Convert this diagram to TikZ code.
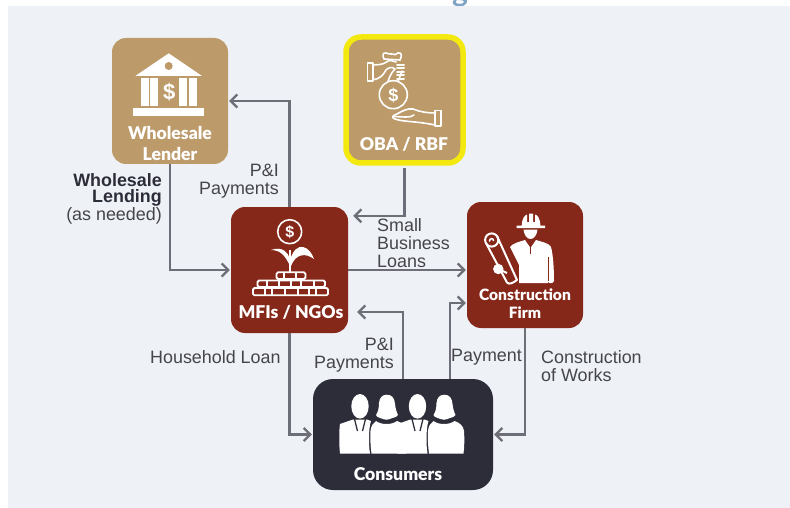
\documentclass[tikz,border=0pt]{standalone}
\usepackage{fontspec}
\setmainfont{Liberation Sans}
\newfontfamily\titlefont{Lato Black}
\newfontfamily\headfont{Lato}
\usetikzlibrary{arrows.meta,calc}
\definecolor{panel}{HTML}{EEF1F6}
\definecolor{tan}{HTML}{BC9A6A}
\definecolor{rust}{HTML}{852819}
\definecolor{ink}{HTML}{2D2D3A}
\definecolor{wire}{HTML}{6D6E78}
\definecolor{lbl}{HTML}{45454B}
\definecolor{hilite}{HTML}{F3E90F}
\definecolor{headblue}{HTML}{7FA3C6}
\tikzset{
 box/.style={rounded corners=14pt,inner sep=0pt,draw=none},
 arrow/.style={draw=wire,line width=2.3pt,-{Straight Barb[length=6.5pt,width=13pt,line width=2.3pt]},shorten >=1pt},
 title/.style={font=\titlefont\fontsize{17.6}{20}\selectfont,text=white,inner sep=0pt,align=center},
 titlesm/.style={font=\titlefont\fontsize{15.6}{18}\selectfont,text=white,inner sep=0pt,align=center},
 lab/.style={font=\fontsize{17.9}{18}\selectfont,text=lbl,inner sep=0pt},
 labb/.style={inner sep=0pt,anchor=east,font=\fontsize{17.9}{18}\selectfont\bfseries,text=ink},
 wstroke/.style={draw=white,line width=1.6pt,fill=none,line join=round,line cap=round},
 brick/.style={draw=white,line width=1.8pt,rounded corners=1.5pt,fill=none},
 divider/.style={draw=white,line width=1.6pt},
}
\newcommand{\boxat}[7]{\node[box,fill=#2,minimum width=#5pt-#3pt,minimum height=#6pt-#4pt,#7] (#1) at ({(#3+#5)/2},{(#4+#6)/2}) {};}
\begin{document}
\begin{tikzpicture}[x=1pt,y=-1pt]
\useasboundingbox (0,0) rectangle (790,508);
\fill[white] (0,0) rectangle (790,508);
\node[font=\headfont\fontsize{30}{30}\selectfont\bfseries,text=headblue,inner sep=0pt,anchor=base] (headg) at (460,1.5) {g};
\fill[panel] (8,6) rectangle (790,508);

% boxes
\boxat{wl}{tan}{112}{38}{228}{164}{}
\boxat{oba}{tan}{346}{37}{463}{163}{draw=hilite,line width=5.5pt,rounded corners=15pt}
\boxat{mfi}{rust}{231}{207}{348}{333}{}
\boxat{firm}{rust}{467}{202}{583}{328}{}
\boxat{cons}{ink}{313}{379}{493}{490}{rounded corners=20pt}

% connectors
\draw[arrow] (mfi.north) |- (wl.east);
\draw[arrow] (wl.south) |- (mfi.west);
\draw[arrow] (oba.south) ++(0,2.5) |- ($(mfi.north east)+(4,9)$);
\draw[arrow] (mfi.east) -- (mfi.east -| firm.west);
\draw[arrow] (cons.north -| 403,0) -- (403,312) -- ($(mfi.east |- 0,312)+(8,0)$);
\draw[arrow] (cons.north -| 450,0) -- (450,303) -- (firm.west |- 0,303);
\draw[arrow] (firm.south) |- (cons.east);
\draw[arrow] (mfi.south) |- (cons.west);

% titles
\node[title] (t1) at (170,133) {Wholesale};
\node[title] (t2) at (170,154) {Lender};
\node[title] (t3) at (404,144) {OBA / RBF};
\node[title] (t4) at (291,312) {MFIs / NGOs};
\node[titlesm] (t5) at (525,295) {Construction};
\node[titlesm] (t6) at (525,313) {Firm};
\node[title] (t7) at (398,474) {Consumers};

% labels
\node[lab,anchor=east,align=right] (l1) at (279,181) {P\&I\\Payments};
\node[labb] (l2) at (162,180) {Wholesale};
\node[labb] (l3) at (162,198) {Lending};
\node[lab,anchor=east] (l4) at (162,215.5) {(as needed)};
\node[lab,anchor=west,align=left] (l5) at (377,243.5) {Small\\Business\\Loans};
\node[lab,anchor=west] (l6) at (150,357) {Household Loan};
\node[lab,anchor=east,align=right] (l7) at (394,355) {P\&I\\Payments};
\node[lab,anchor=west] (l8) at (451,357) {Payment};
\node[lab,anchor=west,align=left] (l9) at (541,366) {Construction\\of Works};

% bank icon
\fill[white] (168.7,53.3) -- (202,76) -- (135.3,76) -- cycle;
\fill[tan] (168.7,66) circle (4);
\fill[white] (141.3,78.3) rectangle (149.3,105.7);
\fill[white] (150.3,78.3) rectangle (158.3,105.7);
\fill[white] (179.3,78.3) rectangle (187.3,105.7);
\fill[white] (188.7,78.3) rectangle (196.7,105.7);
\fill[white] (133.3,108.3) rectangle (204,116);
\node[font=\fontsize{22}{22}\selectfont\bfseries,text=white,inner sep=0pt] (bankd) at (169.3,92) {\$};

% OBA icon
\begin{scope}[wstroke]
\draw (367.3,63) rectangle (372.7,81.3);
\draw (372.7,65) -- (380,64.5) .. controls (385,64) and (388,60) .. (391,60.5) -- (396,62);
\draw (372.7,79.5) .. controls (380,79.5) and (384,74) .. (386,70) .. controls (388,68) and (392,66) .. (395,69);
\draw (384,59) .. controls (382,55) and (383,52.5) .. (386,53) .. controls (388,55) and (390,53) .. (392,54) .. controls (394,56) and (396,54) .. (398,53) .. controls (402,52) and (402,56) .. (400,60);
\draw (384,59) -- (400,60);
\draw (393.3,94.7) circle (14);
\draw (388,81.5) .. controls (389,78) and (391,73) .. (395,69);
\draw (398,81.5) -- (402,71);
\foreach \yy in {65,68.5,72,75.5,79}{\draw[line width=2pt] (397,\yy) -- (404,\yy);}
\node[font=\fontsize{18}{18}\selectfont\bfseries,text=white,inner sep=0pt,draw=none] (obad) at (393.3,95) {\$};
\draw (435,113) .. controls (428,113) and (420,112) .. (413,109) .. controls (408,108) and (402,111) .. (397,114) .. controls (391,116) and (392,118) .. (395,119) .. controls (403,122) and (416,121) .. (435,125);
\draw (393,116.5) -- (405,117) .. controls (410,117) and (412,116.5) .. (414,115);
\draw (435,110.7) rectangle (440.7,126.3);
\end{scope}

% MFI icon
\draw[wstroke] (289.7,231.7) circle (12);
\node[font=\fontsize{16}{16}\selectfont\bfseries,text=white,inner sep=0pt] (mfid) at (289.7,231.9) {\$};
\draw[white,line width=2pt] (290,250) -- (290,272);
\fill[white] (290,259) .. controls (288,252) and (282,246) .. (271,250) .. controls (280,250) and (285,255) .. (290,266) -- cycle;
\fill[white] (290,260) .. controls (293,250) and (298,246) .. (303,247) .. controls (308,248) and (312,253) .. (314,259) .. controls (306,253) and (296,253) .. (291,266) -- cycle;
\draw[brick] (276.5,272.3) rectangle (305.5,279);
\foreach \v in {284,296}{\draw[divider] (\v,272.3) -- (\v,279);}
\draw[brick] (257.5,280.5) rectangle (325,287);
\foreach \v in {267,279,291,301,314}{\draw[divider] (\v,280.5) -- (\v,287);}
\draw[brick] (253,288) rectangle (328,295.3);
\foreach \v in {265,272,285,298,309,316}{\draw[divider] (\v,288) -- (\v,295.3);}

% Construction icon
\fill[white] (521.7,225.7) .. controls (522,218) and (525,215) .. (527,214.5) -- (527,222) -- (529,222) -- (529,213.5) -- (533,213.5) -- (533,222) -- (535,222) -- (535,214.5) .. controls (538,215) and (540,219) .. (540.5,225.7) -- (545,225.7) -- (545,228) -- (516.7,228) -- (516.7,225.7) -- cycle;
\fill[white] (523.5,229.5) -- (537.5,229.5) .. controls (537,235) and (534,239) .. (530.5,239) .. controls (527,239) and (524,235) .. (523.5,229.5) -- cycle;
\fill[white] (525,240) -- (530.5,248) -- (536,240) .. controls (542,242) and (549,243) .. (551,247) .. controls (553,254) and (554,268) .. (554,281) .. controls (553,284) and (548.5,284) .. (548,281) -- (548,283) -- (519,283) -- (519,265) -- (510,247) .. controls (513,243) and (519,242) .. (525,240) -- cycle;
\draw[rust,line width=1pt] (530.5,242) -- (530.5,254);
\draw[rust,line width=1pt] (548.3,257) -- (548.3,281);
\draw[wstroke,line width=2pt] (486.5,244) -- (507,282.5) .. controls (509,285) and (513,283) .. (517,280) -- (497,236);
\draw[wstroke,line width=2pt] (491.7,240) circle (6.6);
\draw[wstroke] (489.5,241) .. controls (489.5,238) and (493.5,238) .. (493.5,240.5);
\fill[white] (498.3,269) circle (5.2);
\draw[white,line width=2pt] (498.3,269) -- (507,273);

% Consumers icon
\foreach \o in {0,57.5}{
\begin{scope}[shift={(\o,0)}]
\fill[white] (360,406.3) ellipse (8.7 and 12.3);
\fill[white] (340,424) -- (353,419.5) -- (367,419.5) -- (371,421) .. controls (368.5,428) and (368.5,445) .. (370,453.5) -- (340,453.5) .. controls (339,445) and (339,430) .. (340,424) -- cycle;
\draw[ink,line width=1.3pt] (354.5,419) -- (357.5,431);
\draw[ink,line width=1.3pt] (365.5,419) -- (362.5,431);
\fill[white] (386.7,394.7) .. controls (392,394.7) and (394.5,398) .. (395,404) .. controls (395.5,409) and (397,413) .. (398,415) .. controls (396,418) and (392,417.5) .. (390,419) .. controls (388,420) and (385,420) .. (383,419) .. controls (381,417.5) and (377,418) .. (376,415) .. controls (378,412) and (379,408) .. (379,403) .. controls (379.5,398) and (382,394.7) .. (386.7,394.7) -- cycle;
\fill[white] (376,421) .. controls (381,425) and (392,425) .. (397,421) .. controls (402,422.5) and (406,426) .. (406.5,431) .. controls (407,438) and (407,446) .. (406,453.5) -- (371.5,453.5) .. controls (370.5,446) and (370,438) .. (370.5,431) .. controls (371,426) and (373,423) .. (376,421) -- cycle;
\end{scope}}
\end{tikzpicture}
\end{document}
